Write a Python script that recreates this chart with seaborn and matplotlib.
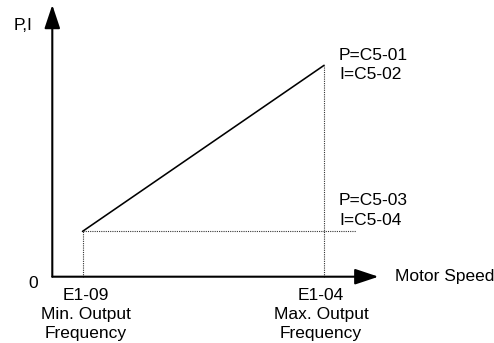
import matplotlib
matplotlib.use("Agg")
import matplotlib.pyplot as plt
import seaborn as sns
import pandas as pd

# Operating points: speed (E1-09 min, E1-04 max) and gain level (P/I)
speed_points = [1.0, 9.0]
gain_levels = [1.5, 7.0]
speed_labels = ["E1-09\nMin. Output\nFrequency", "E1-04\nMax. Output\nFrequency"]
gain_labels = ["P=C5-03\nI=C5-04", "P=C5-01\nI=C5-02"]
x_axis_label = "Motor Speed"
y_axis_label = "P,I"
origin_label = "0"

sns.set_theme(style="white")
plt.rcParams["font.family"] = ["Liberation Sans", "DejaVu Sans"]

W, H, DPI = 494, 343, 100
fig = plt.figure(figsize=(W / DPI, H / DPI), dpi=DPI)
ax = fig.add_axes([0, 0, 1, 1])
ax.set_axis_off()

# pixel scale of one unit and origin location inside the canvas
s = 30.2
ox, oy = 52.3, 276.7
ax.set_xlim(-ox / s, (W - ox) / s)
ax.set_ylim(-(H - oy) / s, oy / s)

df = pd.DataFrame({"speed": speed_points, "gain": gain_levels})

# gain ramp between the two operating points
sns.lineplot(data=df, x="speed", y="gain", color="black", lw=1.15, ax=ax)

dot = dict(color="#333333", lw=0.8, linestyle=(0, (1, 1)))
x_lo, x_hi = speed_points
y_lo, y_hi = gain_levels
ax.plot([x_lo, x_lo], [0, y_lo], **dot)
ax.plot([x_hi, x_hi], [0, y_hi], **dot)
ax.plot([x_lo, x_hi + 1.05], [y_lo, y_lo], **dot)

# axes with arrow heads
arrow = dict(arrowstyle="-|>,head_length=0.6,head_width=0.2", color="black",
             lw=1.5, shrinkA=0, shrinkB=0, mutation_scale=24)
ax.annotate("", xy=(10.8, 0), xytext=(0, 0), arrowprops=arrow)
ax.annotate("", xy=(0, 9.0), xytext=(0, 0), arrowprops=arrow)

fs = 12.5
ls = 1.36
tk = dict(fontsize=fs, color="black", textcoords="offset pixels")
ax.annotate(y_axis_label, xy=(0, 9.0), xytext=(-20, -21), ha="right", va="center", **tk)
ax.annotate(origin_label, xy=(0, 0), xytext=(-19, -7), ha="center", va="center", **tk)
ax.annotate(x_axis_label, xy=(10.8, 0), xytext=(17, 0), ha="left", va="center", **tk)

for xv, lab, dx in zip(speed_points, speed_labels, [3, -3]):
    ax.annotate(lab, xy=(xv, 0), xytext=(dx, -11), ha="center", va="top",
                linespacing=ls, multialignment="center", **tk)

ax.annotate(gain_labels[1], xy=(x_hi, y_hi), xytext=(15, 0), ha="left", va="center",
            linespacing=ls, **tk)
ax.annotate(gain_labels[0], xy=(x_hi, y_lo), xytext=(15, 21), ha="left", va="center",
            linespacing=ls, **tk)

fig.savefig("out.png", dpi=DPI, facecolor="white")
